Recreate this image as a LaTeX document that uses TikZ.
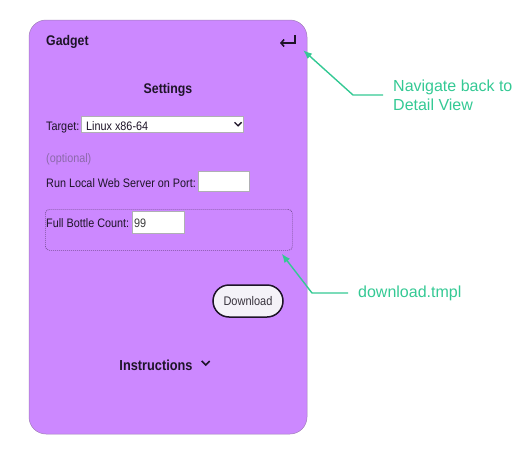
\documentclass[tikz,border=0pt]{standalone}
\usepackage{fontspec}
\setmainfont{Liberation Sans}
\newfontfamily\uifont[FakeStretch=0.88]{Liberation Sans}
\usetikzlibrary{arrows.meta,positioning}
\definecolor{gadget}{RGB}{204,136,255}
\definecolor{note}{RGB}{52,201,148}
\definecolor{ink}{RGB}{30,20,40}
\definecolor{faint}{RGB}{140,105,170}
\definecolor{edge}{RGB}{175,175,180}

\begin{document}
\begin{tikzpicture}[x=1pt,y=-1pt,
  lbl/.style={anchor=base west,inner sep=0pt,text=ink,font=\uifont\fontsize{12.3}{14}\selectfont},
  title/.style={anchor=base,inner sep=0pt,text=ink,font=\uifont\bfseries\fontsize{14}{16}\selectfont},
  field/.style={draw=edge,fill=white,line width=0.6pt,anchor=north west,inner sep=0pt},
  notetext/.style={text=note,font=\fontsize{16}{19}\selectfont,align=left,inner xsep=10pt,anchor=west},
  noteline/.style={note,line width=1.4pt,-{Latex[length=9pt,width=7pt]}}]

\useasboundingbox (0,0) rectangle (522,455);
% panel
\draw[fill=gadget,draw={rgb,255:red,160;green,125;blue,185},line width=0.5pt,rounded corners=17pt] (29,20) rectangle (307,434);

\node[title,anchor=base west] (gadget) at (46,45) {Gadget};
\node[minimum width=30pt,minimum height=20pt,inner sep=0pt] (back) at (288,40) {};
\draw[ink,line width=1.6pt,-{Straight Barb[length=3pt,width=7pt]}] ([shift={(7,-5)}]back.center) -- ([shift={(7,3)}]back.center) -- ([shift={(-8,3)}]back.center);

\node[title] (settings) at (168,93) {Settings};

\node[lbl] (target) at (46,130) {Target:};
\node[field,minimum width=162pt,minimum height=16pt] (select) at (81,116) {};
\node[lbl] (linux) at (86,130) {Linux x86-64};
\draw[ink,line width=1.3pt] ([shift={(-9,-2)}]select.east) -- ([shift={(-5.5,1.5)}]select.east) -- ([shift={(-2,-2)}]select.east);

\node[lbl,text=faint] (optional) at (46,162) {(optional)};
\node[lbl] (runport) at (46,187) {Run Local Web Server on Port:};
\node[field,minimum width=51pt,minimum height=20pt] (port) at (198,171) {};

% template box
\node[draw={rgb,255:red,120;green,80;blue,150},dash pattern=on 1pt off 1pt,line width=0.7pt,rounded corners=4pt,anchor=north west,minimum width=247pt,minimum height=41pt,inner sep=0pt] (bottle) at (45,209) {};
\node[lbl] (bottlelbl) at (46,227) {Full Bottle Count:};
\node[field,minimum width=52pt,minimum height=22pt] (count) at (132,211) {};
\node[lbl,text={rgb,255:red,60;green,60;blue,60}] (countval) at (134,227) {99};

\node[draw=ink,fill={rgb,255:red,244;green,242;blue,248},line width=1.5pt,rounded corners=16pt,minimum width=70pt,minimum height=32pt,inner sep=0pt,font=\uifont\fontsize{12.5}{14}\selectfont,text={rgb,255:red,55;green,50;blue,60}] (download) at (248,301) {Download};

\node[title,font=\uifont\bfseries\fontsize{14.5}{16}\selectfont] (instr) at (156,370) {Instructions};
\draw[ink,line width=1.5pt] ([shift={(9,-9)}]instr.base east) -- ([shift={(13,-5)}]instr.base east) -- ([shift={(17,-9)}]instr.base east);

% notes
\node[notetext] (navtext) at (383,95) {Navigate back to\\Detail View};
\coordinate (navbend) at (353,95);
\draw[noteline] (navtext.west) -- (navbend) -- (back.south east);

\node[notetext] (dltext) at (348,293) {download.tmpl};
\coordinate (dlbend) at (312,293);
\draw[noteline] (dltext.west) -- (dlbend) -- ([shift={(-11,3)}]bottle.south east);
\end{tikzpicture}
\end{document}
